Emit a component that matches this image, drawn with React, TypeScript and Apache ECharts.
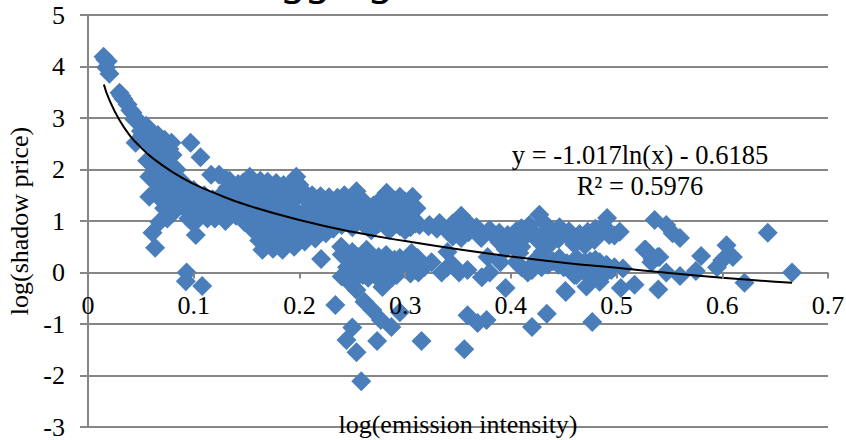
import React, { useEffect, useRef } from "react";
import * as echarts from "echarts";

const leftArm: number[][] = [
  [0.0147,4.19],[0.0165,4.13],[0.0187,4.1],[0.0172,3.98],[0.0203,3.86],[0.0298,3.49],[0.0315,3.43],[0.0336,3.37],[0.0374,3.26],
  [0.0421,3.1],[0.044,2.97],[0.0475,2.93],[0.0506,2.89],[0.0553,2.81],[0.06,2.73],[0.066,2.67],[0.0724,2.58],[0.079,2.52],
  [0.097,2.52],[0.1064,2.24],[0.045,2.52],[0.0515,2.67],[0.061,2.52],[0.057,2.6],[0.068,2.45],[0.08,2.28],[0.056,2.17],
  [0.0705,2.32],[0.06,1.9],[0.0837,2.0],[0.0676,2.05],[0.058,1.47],[0.074,1.8],[0.077,1.35],[0.0676,1.66],[0.061,0.77],
  [0.0635,0.48],[0.0676,0.98],[0.077,1.25],[0.069,1.6],[0.058,1.86],[0.064,1.75],[0.073,1.5],[0.081,1.7],[0.083,1.45],
  [0.0933,0.0],[0.0925,-0.17],[0.108,-0.26],[0.102,0.73],[0.09,1.5],[0.095,1.62],[0.1,1.2],[0.105,1.45],[0.088,1.3],[0.098,1.38],
  [0.05,2.75],[0.055,2.55],[0.06,2.4],[0.065,2.3],[0.07,2.15],[0.075,2.0],[0.063,2.2],[0.072,2.5],[0.077,2.4],[0.062,1.8],[0.065,1.55],
  [0.072,1.25],[0.08,1.15],[0.085,1.35],[0.092,1.25],[0.095,1.05],[0.1,0.95],[0.105,1.1],[0.075,1.05],[0.07,1.4],[0.085,1.75],[0.09,1.75],
  [0.079,1.9],[0.1,1.6],[0.11,1.5],[0.115,1.25],[0.12,1.3],[0.04,3.15],[0.055,2.85]
];

const denseBlob: number[][] = [
  [0.1165,1.9],[0.124,1.9],[0.13,1.82],[0.134,1.78],[0.142,1.72],[0.153,1.86],[0.147,1.75],[0.163,1.78],[0.17,1.76],[0.178,1.74],[0.185,1.7],[0.191,1.72],[0.197,1.86],[0.2,1.7],
  [0.205,1.55],[0.212,1.5],[0.22,1.48],[0.228,1.46],[0.236,1.45],[0.2425,1.5],[0.254,1.58],[0.26,1.4],[0.27,1.3],[0.278,1.2],[0.2825,1.55],[0.29,1.4],[0.295,1.47],[0.307,1.47],[0.3,1.25],
  [0.11,1.28],[0.113,1.05],[0.118,1.42],[0.12,1.05],[0.125,1.25],[0.128,1.55],[0.13,1.0],[0.135,1.35],[0.138,1.62],[0.14,1.1],[0.145,1.45],[0.148,0.98],[0.15,1.25],[0.155,1.6],[0.155,0.85],
  [0.158,1.1],[0.16,1.4],[0.162,0.62],[0.165,0.44],[0.165,0.9],[0.168,1.2],[0.17,1.55],[0.172,0.7],[0.175,1.0],[0.175,0.46],[0.178,1.35],[0.18,0.82],[0.182,1.55],[0.184,0.44],[0.185,1.15],
  [0.188,0.62],[0.19,0.95],[0.192,1.38],[0.195,0.5],[0.196,0.78],[0.198,1.18],[0.2,1.52],[0.203,0.98],[0.205,0.6],[0.207,0.78],[0.21,1.28],[0.212,1.05],[0.214,0.86],[0.215,0.66],[0.218,1.38],
  [0.22,1.16],[0.223,0.92],[0.225,0.76],[0.228,1.28],[0.23,1.03],[0.232,0.85],[0.235,1.38],[0.238,1.15],[0.24,0.92],[0.245,1.28],[0.248,1.05],[0.25,0.88],[0.252,1.42],[0.256,1.18],[0.26,0.95],
  [0.262,1.25],[0.265,1.08],[0.268,0.82],[0.272,1.12],[0.275,0.95],[0.28,1.3],[0.282,1.05],[0.285,0.82],[0.288,1.2],[0.292,0.95],[0.296,1.12],[0.3,0.82],[0.303,1.05],[0.306,1.25],[0.31,0.95],
  [0.3107,1.25],[0.307,1.06],[0.3135,0.92],[0.322,0.9],[0.135,1.15],[0.148,1.18],[0.16,1.22],[0.172,1.3],[0.185,0.92],[0.142,1.32],[0.152,1.5],[0.165,1.52],[0.178,1.58],[0.192,1.55],[0.207,1.4],
  [0.2205,1.3],[0.2295,1.12],[0.243,1.15],[0.256,1.05],[0.2395,0.5],[0.2635,0.44],[0.282,0.34],[0.295,0.18],[0.245,0.35],
  [0.12,1.15],[0.127,1.42],[0.132,1.65],[0.14,1.5],[0.15,1.4],[0.157,1.72],[0.165,1.65],[0.172,1.15],[0.182,1.05],[0.19,1.2],[0.195,1.05],[0.205,1.15],[0.175,0.6],[0.183,0.7],[0.19,0.75],
  [0.17,0.85],[0.16,0.98],[0.15,1.1],[0.21,0.9],[0.218,1.2],[0.24,1.35],[0.25,1.15],[0.26,1.15],[0.27,1.0],[0.28,1.15],[0.29,1.1],[0.295,0.9],[0.305,0.88],[0.265,0.88],[0.275,1.38],[0.285,1.42],[0.3,1.38]
];

const lowCluster: number[][] = [
  [0.2205,0.26],[0.234,-0.63],[0.2475,0.24],[0.25,0.05],[0.2475,-0.2],[0.254,-0.34],[0.2615,-0.57],[0.269,-0.73],[0.277,-0.92],[0.287,-1.06],
  [0.2785,-0.28],[0.288,-0.09],[0.2635,0.05],[0.258,0.15],[0.272,0.15],[0.28,-0.02],[0.295,0.05],[0.3,0.1],[0.295,-0.77],[0.25,-1.07],[0.2445,-1.31],
  [0.254,-1.55],[0.2585,-2.11],[0.2735,-1.33],[0.3155,-1.33],[0.3126,0.0],[0.3345,0.0],[0.318,0.1],[0.3117,0.28],[0.306,0.38],[0.356,-1.49],
  [0.359,-0.83],[0.3685,-0.98],[0.377,-0.92],[0.395,-0.3],[0.42,-1.06],[0.434,-0.8],[0.452,-0.38],[0.351,0.0],[0.359,0.05],[0.3725,-0.09],[0.38,0.0],
  [0.24,0.35],[0.245,0.1],[0.24,-0.08],[0.25,0.4],[0.255,0.3],[0.26,0.2],[0.255,0.1],[0.265,0.3],[0.27,0.25],[0.27,0.05],[0.275,0.3],[0.265,-0.1],[0.26,-0.05],[0.253,-0.12],
  [0.275,-0.12],[0.283,0.2],[0.29,0.1],[0.285,0.0],[0.28,-0.15],[0.292,-0.05],[0.3,0.2],[0.305,0.15],[0.31,0.05],[0.305,-0.02],[0.29,0.25],[0.295,0.28]
];

const midBand: number[][] = [
  [0.353,1.1],[0.427,1.12],[0.416,0.0],[0.429,0.1],[0.34,0.4],[0.408,0.38],[0.378,0.3],[0.43,0.4],[0.323,0.92],[0.3325,0.96],[0.35,0.86],[0.3675,0.88],[0.38,0.83],[0.389,0.77],[0.397,0.73],
  [0.41,0.86],[0.4175,0.92],[0.436,0.87],[0.446,0.88],[0.4585,0.67],[0.353,0.67],[0.4015,0.53],[0.415,0.73],[0.372,0.67],[0.389,0.59],[0.436,0.53],[0.462,0.28],[0.446,0.28],[0.462,-0.05],
  [0.36,0.78],[0.345,0.7],[0.424,0.65],[0.405,0.68],[0.452,0.75],[0.44,0.22],[0.42,0.14],[0.425,0.28],[0.41,0.1],[0.453,0.18],[0.47,0.53],[0.465,0.63],[0.459,0.67],[0.4727,0.79],[0.486,0.79],
  [0.479,0.63],[0.491,1.06],[0.493,0.73],[0.503,0.79],[0.463,0.2],[0.4745,0.1],[0.484,0.2],[0.4905,0.15],[0.498,0.1],[0.506,0.08],[0.46,-0.05],[0.468,0.14],
  [0.33,0.85],[0.34,0.8],[0.345,0.95],[0.355,0.9],[0.36,0.95],[0.37,0.8],[0.385,0.7],[0.4,0.62],[0.405,0.8],[0.42,0.8],[0.43,0.75],
  [0.432,0.95],[0.44,0.75],[0.445,0.65],[0.455,0.8],[0.395,0.45],[0.41,0.5],
  [0.325,0.2],[0.34,0.1],[0.345,0.15],[0.39,0.2],[0.405,0.2],[0.42,0.05],[0.435,0.15],[0.445,0.15],[0.45,0.1],
  [0.46,0.15],[0.47,0.2],[0.475,0.22],[0.48,0.1],[0.48,0.25],[0.49,0.0],[0.485,0.05],[0.495,0.05],[0.475,-0.1],
  [0.475,0.7],[0.482,0.72],[0.47,0.65],[0.488,0.9],[0.48,0.85],[0.498,0.72],[0.465,0.75],[0.46,0.55]
];

const rightTail: number[][] = [
  [0.4715,-0.27],[0.484,-0.18],[0.504,-0.3],[0.517,-0.24],[0.477,-0.96],[0.4515,-0.36],[0.5275,0.44],[0.536,1.02],[0.547,0.92],[0.553,0.76],[0.56,0.67],
  [0.533,0.2],[0.539,0.3],[0.5265,0.44],[0.5405,0.3],[0.534,0.26],[0.547,0.0],[0.5395,-0.33],[0.56,-0.07],[0.575,0.03],[0.58,0.32],[0.595,0.1],[0.604,0.53],[0.61,0.3],[0.6,0.24],[0.621,-0.2],[0.643,0.77],[0.666,0.0]
];

const trendX = [0.015,0.02,0.03,0.04,0.05,0.06,0.08,0.1,0.12,0.15,0.2,0.25,0.3,0.35,0.4,0.45,0.5,0.55,0.6,0.65,0.666];
const trendY = [3.65,3.36,2.95,2.65,2.43,2.24,1.95,1.72,1.54,1.31,1.02,0.79,0.61,0.45,0.31,0.19,0.09,-0.01,-0.1,-0.18,-0.2];

const scatterPoints = [...leftArm, ...denseBlob, ...lowCluster, ...midBand, ...rightTail];
const serif = "'Liberation Serif', serif";
const gridGrey = "#868686";

export default function App() {
  const ref = useRef<HTMLDivElement>(null);
  useEffect(() => {
    const chart = echarts.init(ref.current!, undefined, { renderer: "svg" });
    chart.setOption({
      animation: false,
      backgroundColor: "#fff",
      grid: { left: 88, right: 18, top: 15, bottom: 13, containLabel: false, outerBoundsMode: "none" },
      xAxis: {
        type: "value", min: 0, max: 0.7, interval: 0.1, z: 5, position: "bottom", offset: -154.5,
        name: "log(emission intensity)", nameLocation: "middle", nameGap: 139,
        nameTextStyle: { fontFamily: serif, fontSize: 26, color: "#000" },
        axisLine: { show: false, onZero: false },
        axisTick: { show: true, length: 6, lineStyle: { color: gridGrey, width: 2 } },
        axisLabel: { fontFamily: serif, fontSize: 26, color: "#000", margin: 20, showMinLabel: true, showMaxLabel: true, hideOverlap: false },
        splitLine: { show: false },
      },
      yAxis: {
        type: "value", min: -3, max: 5, interval: 1, z: 0,
        name: "log(shadow price)", nameLocation: "middle", nameGap: 54, nameRotate: 90,
        nameTextStyle: { fontFamily: serif, fontSize: 26, color: "#000" },
        axisLine: { show: true, onZero: false, lineStyle: { color: gridGrey, width: 2 } },
        axisTick: { show: true, length: 8, lineStyle: { color: gridGrey, width: 2 } },
        axisLabel: { fontFamily: serif, fontSize: 26, color: "#000", margin: 23 },
        splitLine: { show: true, lineStyle: { color: gridGrey, width: 2 } },
      },
      series: [
        { type: "scatter", data: scatterPoints, symbol: "diamond", symbolSize: 20, itemStyle: { color: "#4a7ebb", opacity: 1 }, z: 2 },
        { type: "line", data: trendX.map((x, i) => [x, trendY[i]]), showSymbol: false, smooth: true, lineStyle: { color: "#000", width: 2 }, z: 3 },
      ],
      graphic: [
        { type: "text", x: 255, y: -42, style: { text: "Aggregate", fontFamily: "'Noto Sans'", fontSize: 40, fill: "#000" } },
        { type: "text", x: 640, y: 155, z: 10, style: { text: "y = -1.017ln(x) - 0.6185", fontFamily: serif, fontSize: 26.5, fill: "#000", align: "center", verticalAlign: "middle" } },
        { type: "text", x: 640, y: 186, z: 10, style: { text: "R² = 0.5976", fontFamily: serif, fontSize: 26.5, fill: "#000", align: "center", verticalAlign: "middle" } },
      ],
    });
    return () => chart.dispose();
  }, []);
  return <div ref={ref} style={{ position: "fixed", left: 0, top: 0, width: 846, height: 440 }} />;
}
